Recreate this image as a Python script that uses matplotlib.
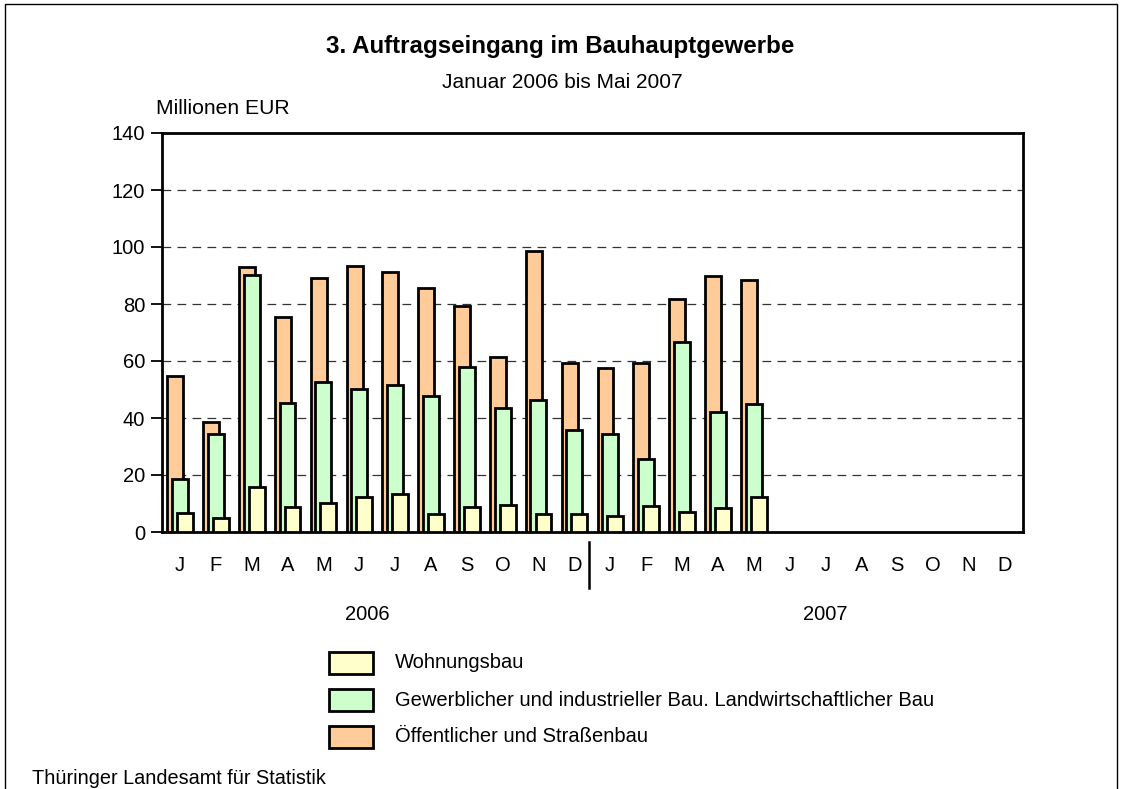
import matplotlib
matplotlib.use("Agg")
import matplotlib.pyplot as plt
from matplotlib.patches import Rectangle
import numpy as np

plt.rcParams['font.family'] = ['Liberation Sans', 'DejaVu Sans']

months = ["J", "F", "M", "A", "M", "J", "J", "A", "S", "O", "N", "D",
          "J", "F", "M", "A", "M", "J", "J", "A", "S", "O", "N", "D"]
years = ["2006", "2007"]
wohnungsbau = [6.6, 4.8, 15.7, 8.9, 10.1, 12.2, 13.4, 6.2, 8.7, 9.4, 6.4, 6.4,
               5.5, 9.0, 6.9, 8.4, 12.2]
gewerbe = [18.6, 34.4, 90.3, 45.1, 52.5, 50.1, 51.6, 47.8, 58.0, 43.6, 46.3, 35.8,
           34.5, 25.5, 66.8, 42.2, 45.0]
oeffentlich = [54.8, 38.5, 92.9, 75.3, 89.0, 93.3, 91.3, 85.6, 79.4, 61.4, 98.6, 59.4,
               57.7, 59.2, 81.9, 89.9, 88.4]
series_labels = ["Wohnungsbau",
                 "Gewerblicher und industrieller Bau. Landwirtschaftlicher Bau",
                 "Öffentlicher und Straßenbau"]
colors = ["#FFFFCC", "#CCFFCC", "#FFCC99"]

W, H = 1122, 789
fig = plt.figure(figsize=(W / 100, H / 100), dpi=100)

def fx(px):
    return px / W

def fy(py):
    return 1 - py / H

ax = fig.add_axes([fx(162), fy(532), fx(1022.5) - fx(162), fy(133) - fy(532)])

x = np.arange(len(wohnungsbau))
bw = 0.445
ekw = dict(edgecolor="black", linewidth=2.0, zorder=3)
ax.bar(x - 0.13, oeffentlich, width=bw, color=colors[2], **ekw)
ax.bar(x, gewerbe, width=bw, color=colors[1], **ekw)
ax.bar(x + 0.14, wohnungsbau, width=bw, color=colors[0], **ekw)

ax.set_xlim(-0.5, 23.5)
ax.set_ylim(0, 140)
ax.set_yticks(np.arange(0, 141, 20))
ax.tick_params(axis="y", labelsize=14.5, length=8, width=1.3, pad=4)
ax.set_xticks(np.arange(24))
ax.set_xticklabels(months)
ax.tick_params(axis="x", labelsize=14.5, length=0, pad=17)
for s in ax.spines.values():
    s.set_linewidth(2.0)
for yv in range(20, 140, 20):
    ax.axhline(yv, color="#333333", linewidth=0.9, linestyle=(0, (7, 5)), zorder=1)

# separator between years
ax.plot([11.42, 11.42], [-0.025, -0.14], transform=ax.get_xaxis_transform(),
        color="black", linewidth=1.8, clip_on=False)

# year labels
ax.text(5.22, -0.208, years[0], transform=ax.get_xaxis_transform(),
        ha="center", va="center", fontsize=14.5)
ax.text(18.0, -0.208, years[1], transform=ax.get_xaxis_transform(),
        ha="center", va="center", fontsize=14.5)

# titles
fig.text(fx(560), fy(46), "3. Auftragseingang im Bauhauptgewerbe",
         ha="center", va="center", fontsize=17.4, fontweight="bold")
fig.text(fx(562), fy(83), "Januar 2006 bis Mai 2007",
         ha="center", va="center", fontsize=15)
fig.text(fx(156), fy(109), "Millionen EUR", ha="left", va="center", fontsize=15.2)
fig.text(fx(32), fy(778), "Thüringer Landesamt für Statistik",
         ha="left", va="center", fontsize=14.3)

# legend
leg_y = [663, 700, 737]
leg_colors = [colors[0], colors[1], colors[2]]
for yy, c, lab in zip(leg_y, leg_colors, series_labels):
    fig.patches.append(Rectangle((fx(329), fy(yy + 11)), fx(373) - fx(329),
                                 fy(yy - 11) - fy(yy + 11), facecolor=c,
                                 edgecolor="black", linewidth=2.0,
                                 transform=fig.transFigure, figure=fig))
    fig.text(fx(395), fy(yy), lab, ha="left", va="center", fontsize=14.5)

# outer frame
fig.patches.append(Rectangle((fx(5), -0.05), fx(1117) - fx(5), fy(4) + 0.05,
                             facecolor="none", edgecolor="black", linewidth=1.0,
                             transform=fig.transFigure, figure=fig))

fig.savefig("out.png", dpi=100)
